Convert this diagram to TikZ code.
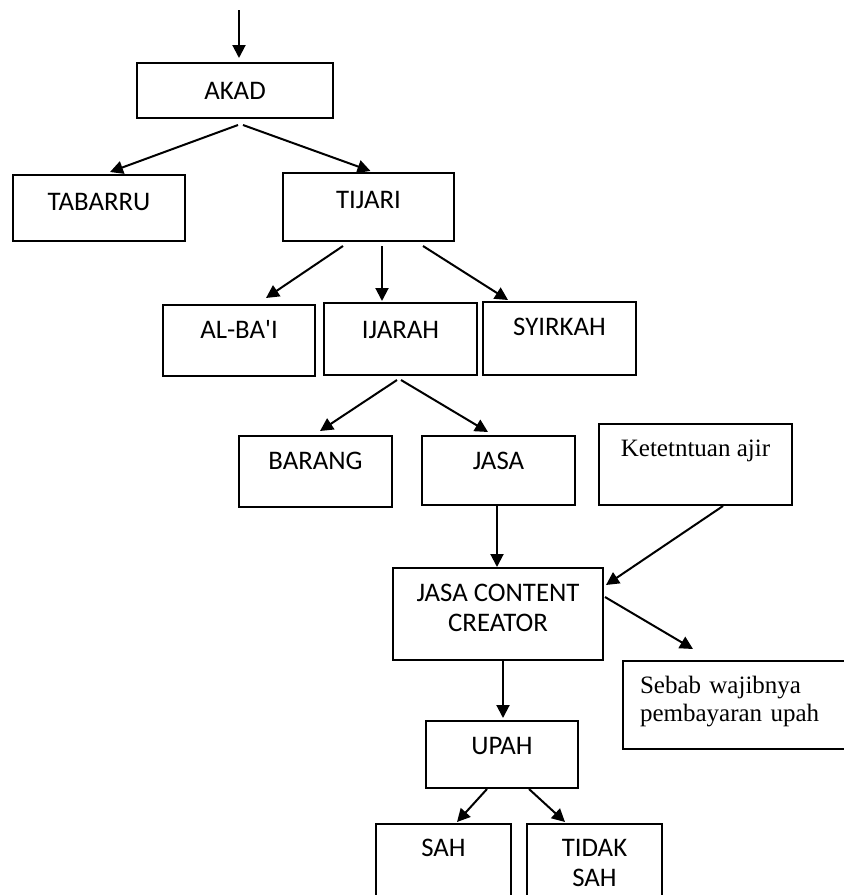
\documentclass[tikz,border=0pt]{standalone}
\usepackage{fontspec}
\newfontfamily\calibriface{Carlito}
\newfontfamily\timesfont{Liberation Serif}
\usetikzlibrary{arrows.meta,calc}

\begin{document}
\begin{tikzpicture}[x=0.5pt,y=-0.5pt,
  box/.style n args={3}{draw, line width=1pt, anchor=north, inner ysep=0pt,
    align=center, font=\calibriface\fontsize{13.4}{15}\selectfont,
    minimum width=#1, text height=#2, text depth=#3},
  arr/.style={line width=1pt, -{Triangle[length=6.5pt,width=6.5pt]}}]
\useasboundingbox (0,0) rectangle (844,895);

\coordinate (in) at (239,10);
\node[box={98pt}{18pt}{9.5pt}] (akad) at (235,62) {AKAD};

\node[box={86pt}{17.5pt}{15.5pt}] (tabarru) at (99,174) {TABARRU};
\node[box={85.5pt}{17.5pt}{16.5pt}] (tijari) at (368.5,172) {TIJARI};

\node[box={76pt}{16.5pt}{19pt}] (albai) at (239,304) {AL-BA'I};
\node[box={76.5pt}{17.5pt}{18.5pt}] (ijarah) at (400.5,302) {IJARAH};
\node[box={76.5pt}{16.5pt}{20pt}] (syirkah) at (559.5,301) {SYIRKAH};

\node[box={76.5pt}{16.5pt}{19pt}] (barang) at (315.5,435) {BARANG};
\node[box={76.5pt}{16.5pt}{18pt}] (jasa) at (498.5,435) {JASA};
\node[box={96.5pt}{16pt}{24.5pt}, font=\timesfont\fontsize{12.5}{14}\selectfont] (ajir) at (695.5,423) {Ketetntuan ajir};

% multi-line boxes: baseline is the last line
\node[box={105pt}{31.5pt}{14.5pt}] (jcc) at (498,567) {JASA CONTENT\\CREATOR};
\node[draw, line width=1pt, anchor=north west, inner ysep=0pt, inner xsep=8.5pt,
  align=left, text width=107pt, text height=16pt, text depth=28pt,
  font=\timesfont\fontsize{12.5}{14}\selectfont] (sebab) at (622,660)
  {Sebab wajibnya\\pembayaran upah};

\node[box={76pt}{16.5pt}{17pt}] (upah) at (502,720) {UPAH};
\node[box={67.5pt}{16pt}{25pt}] (sah) at (443.5,823) {SAH};
\node[box={67.5pt}{31pt}{10pt}] (tidak) at (594.5,823) {TIDAK\\SAH};

\draw[arr] (in) -- ($(akad.north)+(4,-4)$);
\draw[arr] ($(akad.south)+(3,6)$) -- ($(tabarru.north)+(11,-2)$);
\draw[arr] ($(akad.south)+(8,6)$) -- ($(tijari.north)+(2,-1)$);

\draw[arr] ($(tijari.south)+(-25.5,4)$) -- ($(albai.north)+(27,-6)$);
\draw[arr] ($(tijari.south)+(13.5,4)$) -- ($(ijarah.north)+(-18.5,-1)$);
\draw[arr] ($(tijari.south)+(54.5,4)$) -- ($(syirkah.north)+(-51.5,-1)$);

\draw[arr] ($(ijarah.south)+(-3.5,4)$) -- ($(barang.north)+(4.5,-4)$);
\draw[arr] ($(ijarah.south)+(0.5,4)$) -- ($(jasa.north)+(-10.5,-3)$);

\draw[arr] ($(jasa.south)+(-1.5,0)$) -- ($(jcc.north)+(-1,0)$);
\draw[arr] ($(ajir.south)+(27.5,0)$) -- ($(jcc.north east)+(2,18)$);
\draw[arr] ($(jcc.north east)+(1,30)$) -- ($(sebab.north west)+(71,-11)$);
\draw[arr] ($(jcc.south)+(5,0)$) -- ($(upah.north)+(1,-2)$);

\draw[arr] ($(upah.south)+(-15,0)$) -- ($(sah.north)+(13.5,-1)$);
\draw[arr] ($(upah.south)+(27,0)$) -- ($(tidak.north)+(-29.5,-1)$);
\end{tikzpicture}
\end{document}
